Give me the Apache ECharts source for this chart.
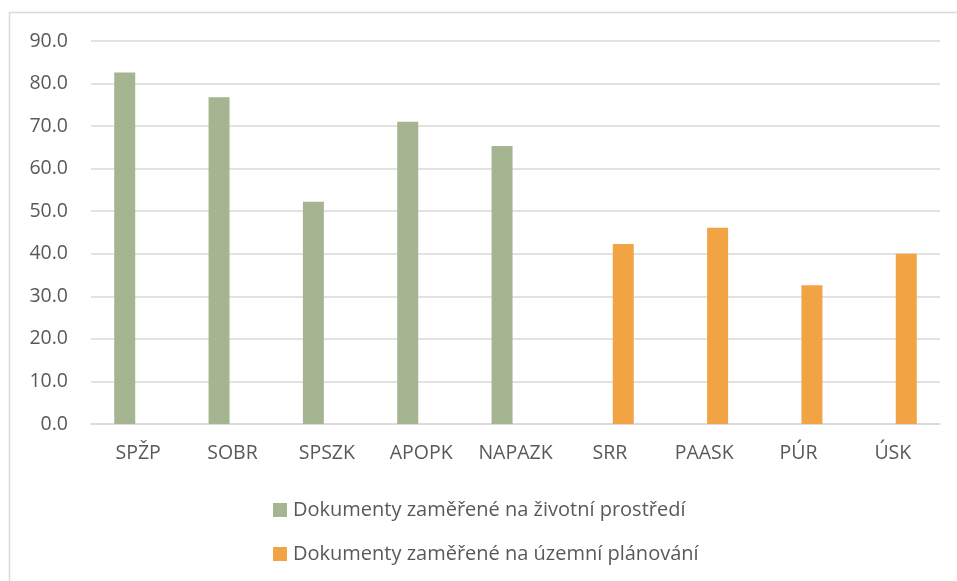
<!DOCTYPE html>
<html>
<head>
<meta charset="utf-8">
<script src="https://cdn.jsdelivr.net/npm/echarts@6/dist/echarts.min.js"></script>
<style>html,body{margin:0;padding:0;background:#fff;}#c{width:957px;height:581px;}</style>
</head>
<body>
<div id="c"></div>
<script>
const categories = ['SPŽP','SOBR','SPSZK','APOPK','NAPAZK','SRR','PAASK','PÚR','ÚSK'];
const envName = 'Dokumenty zaměřené na životní prostředí';
const planName = 'Dokumenty zaměřené na územní plánování';
const envValues = [82.6, 76.8, 52.2, 71.0, 65.3, null, null, null, null];
const planValues = [null, null, null, null, null, 42.3, 46.1, 32.6, 40.0];

const font = 'Open Sans';
const txt = '#595959';
const chart = echarts.init(document.getElementById('c'));
chart.setOption({
  animation: false,
  backgroundColor: '#fff',
  textStyle: { fontFamily: font },
  graphic: [{
    type: 'rect', shape: { x: 9.5, y: 12.5, width: 980, height: 600 },
    style: { fill: 'none', stroke: '#d9d9d9', lineWidth: 1.5 }, z: -1
  }],
  grid: { left: 91, right: 17, top: 41, bottom: 157 },
  legend: {
    orient: 'vertical', left: 273, top: 499, padding: 0, itemWidth: 14, itemHeight: 14, itemGap: 22,
    icon: 'rect',
    textStyle: { color: txt, fontSize: 20, fontFamily: font, lineHeight: 22, padding: [0, 0, 0, 1] },
    data: [envName, planName]
  },
  xAxis: {
    type: 'category', data: categories,
    axisLine: { lineStyle: { color: '#d9d9d9', width: 1.5 } },
    axisTick: { show: false },
    axisLabel: { color: txt, fontSize: 19.5, margin: 19, fontFamily: font, interval: 0 }
  },
  yAxis: {
    type: 'value', min: 0, max: 90, interval: 10,
    axisLine: { show: false }, axisTick: { show: false },
    splitLine: { lineStyle: { color: '#d9d9d9', width: 1.5 } },
    axisLabel: { color: txt, fontSize: 19.5, margin: 23, fontFamily: font,
      formatter: v => v.toFixed(1) }
  },
  series: [
    { name: envName, type: 'bar', data: envValues, barWidth: 21, barGap: '28%',
      itemStyle: { color: '#a5b592' } },
    { name: planName, type: 'bar', data: planValues, barWidth: 21, barGap: '28%',
      itemStyle: { color: '#f2a444' } }
  ]
});
</script>
</body>
</html>
